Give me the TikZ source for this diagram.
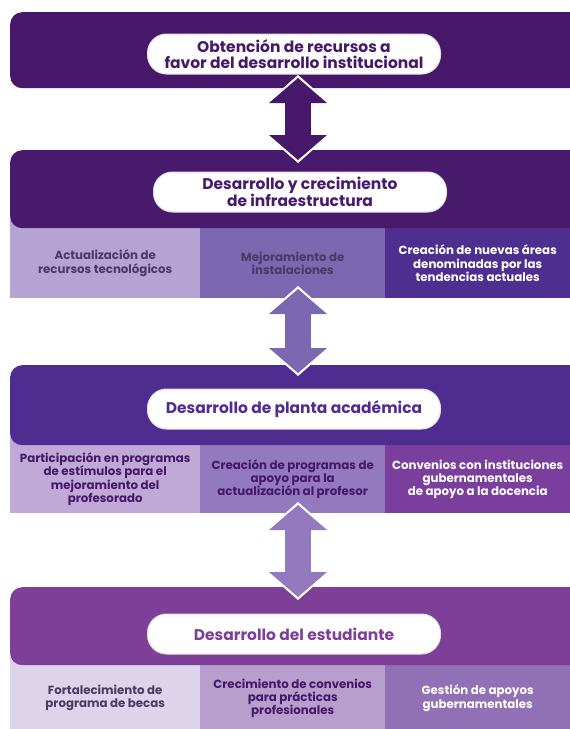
\documentclass[tikz,border=0pt]{standalone}
\usepackage{fontspec}
\setmainfont{Poppins}
\usetikzlibrary{arrows.meta, positioning}
\definecolor{obtcolor}{HTML}{47186A}
\definecolor{infracolor}{HTML}{481A6C}
\definecolor{plantacolor}{HTML}{4F2C8F}
\definecolor{estudcolor}{HTML}{7D3F98}
\definecolor{infraA}{HTML}{B5A3D3}
\definecolor{infraB}{HTML}{7C68B1}
\definecolor{infraC}{HTML}{4E2E8E}
\definecolor{plantaA}{HTML}{C0A9D7}
\definecolor{plantaB}{HTML}{9379BD}
\definecolor{plantaC}{HTML}{7A3E9D}
\definecolor{estudA}{HTML}{DDD3EA}
\definecolor{estudB}{HTML}{B79ECD}
\definecolor{estudC}{HTML}{9170B5}
\definecolor{darktext}{HTML}{4A3A64}

\begin{document}
\begin{tikzpicture}[
    x=1pt, y=-1pt,
    header/.style={rounded corners=12pt, minimum width=600pt, anchor=north west, inner sep=0pt},
    pill/.style={fill=white, draw=black!12, line width=1pt, rounded corners=19pt, minimum width=293pt, minimum height=40pt, font=\bfseries\fontsize{15.5}{16}\selectfont, align=center, inner sep=0pt},
    subbox/.style={anchor=north west, inner sep=0pt, font=\bfseries\fontsize{11.8}{13.3}\selectfont, align=center},
    dblarrow/.style={line width=26pt, {Triangle[length=25pt, width=58pt, line width=0pt]}-{Triangle[length=25pt, width=58pt, line width=0pt]}},
    dblwhite/.style={white, line width=30pt, {Triangle[length=29pt, width=66pt, line width=0pt]}-{Triangle[length=29pt, width=66pt, line width=0pt]}}
]
    \clip (0,0) rectangle (570,729);
    \fill[white] (0,0) rectangle (570,729);

    % Sub boxes
    \node[subbox, fill=infraA, text=darktext, minimum width=190pt, minimum height=70pt] (infra1) at (10,228) {Actualización de\\recursos tecnológicos};
    \node[subbox, fill=infraB, text=darktext, minimum width=185pt, minimum height=70pt] (infra2) at (200,228) {Mejoramiento de\\instalaciones};
    \node[subbox, fill=infraC, text=white, minimum width=185pt, minimum height=70pt] (infra3) at (385,228) {Creación de nuevas áreas\\denominadas por las\\tendencias actuales};

    \node[subbox, fill=plantaA, text=obtcolor, minimum width=190pt, minimum height=68pt] (planta1) at (10,445) {Participación en programas\\de estímulos para el\\mejoramiento del\\profesorado};
    \node[subbox, fill=plantaB, text=obtcolor, minimum width=185pt, minimum height=68pt] (planta2) at (200,445) {Creación de programas de\\apoyo para la\\actualización al profesor};
    \node[subbox, fill=plantaC, text=white, minimum width=185pt, minimum height=68pt] (planta3) at (385,445) {Convenios con instituciones\\gubernamentales\\de apoyo a la docencia};

    \node[subbox, fill=estudA, text=darktext, minimum width=190pt, minimum height=66pt] (estud1) at (10,665) {Fortalecimiento de\\programa de becas};
    \node[subbox, fill=estudB, text=obtcolor, minimum width=185pt, minimum height=66pt] (estud2) at (200,665) {Crecimiento de convenios\\para prácticas\\profesionales};
    \node[subbox, fill=estudC, text=white, minimum width=185pt, minimum height=66pt] (estud3) at (385,665) {Gestión de apoyos\\gubernamentales};

    % corners behind the headers
    \fill[infraA] (infra1.north west) rectangle ++(14,-14);
    \fill[plantaA] (planta1.north west) rectangle ++(14,-14);
    \fill[estudA] (estud1.north west) rectangle ++(14,-14);

    % Headers
    \node[header, fill=obtcolor, minimum height=76pt] (obt) at (10,12) {};
    \node[header, fill=infracolor, minimum height=78pt] (infra) at (10,150) {};
    \node[header, fill=plantacolor, minimum height=80pt] (planta) at (10,365) {};
    \node[header, fill=estudcolor, minimum height=78pt] (estud) at (10,587) {};

    % Titles
    \node[pill, text=obtcolor] (obtlbl) at (294,54) {Obtención de recursos a\\favor del desarrollo institucional};
    \node[pill, text=infracolor] (infralbl) at (300,192) {Desarrollo y crecimiento\\de infraestructura};
    \node[pill, text=plantacolor] (plantalbl) at (294,409) {Desarrollo de planta académica};
    \node[pill, text=estudcolor] (estudlbl) at (294,634) {Desarrollo del estudiante};

    % Arrows
    \coordinate (a1top) at (298,78);
    \coordinate (a1bot) at (298,160);
    \coordinate (a2top) at (298,289);
    \coordinate (a2bot) at (298,373);
    \coordinate (a3top) at (298,505);
    \coordinate (a3bot) at (298,597);
    \draw[dblwhite] ([yshift=3pt]a1top) -- ([yshift=-3pt]a1bot);
    \draw[dblarrow, obtcolor] (a1top) -- (a1bot);
    \draw[dblwhite] ([yshift=3pt]a2top) -- ([yshift=-3pt]a2bot);
    \draw[dblarrow, infraB] (a2top) -- (a2bot);
    \draw[dblwhite] ([yshift=3pt]a3top) -- ([yshift=-3pt]a3bot);
    \draw[dblarrow, plantaB] (a3top) -- (a3bot);
\end{tikzpicture}
\end{document}
